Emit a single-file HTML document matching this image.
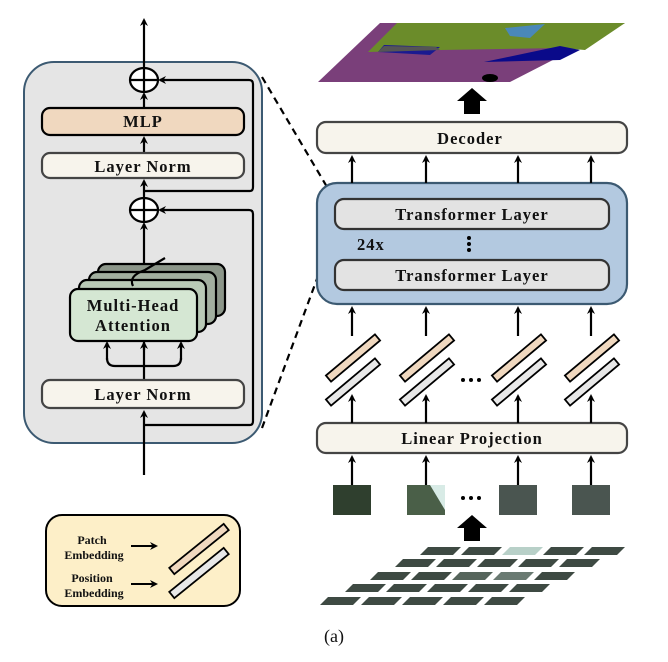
<!DOCTYPE html>
<html><head><meta charset="utf-8"><style>
html,body{margin:0;padding:0;background:#fff}
svg{display:block}
text{font-family:"Liberation Serif",serif;font-weight:bold;fill:#111}
.b{font-size:16.5px;letter-spacing:1px}
</style></head><body>
<svg width="668" height="662" viewBox="0 0 668 662" xmlns="http://www.w3.org/2000/svg">
<defs>
<marker id="a" markerWidth="8" markerHeight="8" refX="6" refY="4" orient="auto" markerUnits="userSpaceOnUse"><path d="M0,0 L8,4 L0,8 L2.5,4 Z" fill="#000"/></marker>
<polygon id="t" points="8,0 41,0 33,8 0,8"/>
<g id="pk"><g transform="translate(0,-12) rotate(-40)"><rect x="-32" y="-4" width="64" height="8" fill="#f0d8bf"/></g><g transform="translate(0,12) rotate(-40)"><rect x="-32" y="-4" width="64" height="8" fill="#e8e8e8"/></g></g>
</defs>
<g stroke="#000" stroke-width="2.2" fill="none">
<rect x="24" y="62" width="238" height="381" rx="30" fill="#e5e5e5" stroke="#3c5a72" stroke-width="2"/>
<line x1="144" y1="475" x2="144" y2="412" marker-end="url(#a)"/>
<line x1="144" y1="380" x2="144" y2="342"/>
<path d="M144,366 H115 Q107,366 107,358"/><line x1="107" y1="360" x2="107" y2="343" marker-end="url(#a)"/>
<path d="M144,366 H173 Q181,366 181,358"/><line x1="181" y1="360" x2="181" y2="343" marker-end="url(#a)"/>
<line x1="144" y1="350" x2="144" y2="343" marker-end="url(#a)"/>
<line x1="144" y1="266" x2="144" y2="224" marker-end="url(#a)"/>
<line x1="144" y1="197" x2="144" y2="181" marker-end="url(#a)"/>
<line x1="144" y1="153" x2="144" y2="138" marker-end="url(#a)"/>
<line x1="144" y1="108" x2="144" y2="94" marker-end="url(#a)"/>
<line x1="144" y1="67" x2="144" y2="20" marker-end="url(#a)"/>
<path d="M144,425 H250 Q253,425 253,421 V214 Q253,210 249,210 H160" marker-end="url(#a)"/>
<path d="M144,191 H250 Q253,191 253,187 V84 Q253,80 249,80 H160" marker-end="url(#a)"/>
<ellipse cx="144" cy="80" rx="14" ry="12" fill="#fff"/><line x1="130" y1="80" x2="158" y2="80"/><line x1="144" y1="68" x2="144" y2="92"/>
<ellipse cx="144" cy="210" rx="14" ry="12" fill="#fff"/><line x1="130" y1="210" x2="158" y2="210"/><line x1="144" y1="198" x2="144" y2="222"/>
<rect x="42" y="108" width="202" height="27" rx="8" fill="#f0d8bf"/>
<rect x="42" y="153" width="202" height="25" rx="8" fill="#f7f4ec" stroke="#444"/>
<rect x="42" y="380" width="202" height="28" rx="8" fill="#f7f4ec" stroke="#444"/>
<rect x="98" y="264" width="127" height="52" rx="8" fill="#8c9689"/>
<rect x="89" y="272" width="127" height="52" rx="8" fill="#a2af9f"/>
<rect x="79" y="280" width="127" height="52" rx="8" fill="#b9cab6"/>
<path d="M133,286 Q128,276 145,270 Q155,264 165,258"/>
<rect x="70" y="289" width="127" height="52" rx="8" fill="#d5e7d3"/>
<line x1="262" y1="77" x2="330" y2="192" stroke-dasharray="7,5"/>
<line x1="262" y1="428" x2="335" y2="230" stroke-dasharray="7,5"/>
<rect x="317" y="122" width="310" height="31" rx="9" fill="#f7f4ec" stroke="#444"/>
<rect x="317" y="183" width="310" height="121" rx="20" fill="#b3c9e0" stroke="#3c5a72"/>
<rect x="335" y="199" width="274" height="30" rx="9" fill="#e3e3e3" stroke="#333"/>
<rect x="335" y="260" width="274" height="30" rx="9" fill="#e3e3e3" stroke="#333"/>
<rect x="317" y="423" width="310" height="30" rx="9" fill="#f7f4ec" stroke="#444"/>
<g>
<line x1="352" y1="183" x2="352" y2="157" marker-end="url(#a)"/><line x1="426" y1="183" x2="426" y2="157" marker-end="url(#a)"/><line x1="518" y1="183" x2="518" y2="157" marker-end="url(#a)"/><line x1="591" y1="183" x2="591" y2="157" marker-end="url(#a)"/>
<line x1="352" y1="336" x2="352" y2="308" marker-end="url(#a)"/><line x1="426" y1="336" x2="426" y2="308" marker-end="url(#a)"/><line x1="518" y1="336" x2="518" y2="308" marker-end="url(#a)"/><line x1="591" y1="336" x2="591" y2="308" marker-end="url(#a)"/>
<line x1="352" y1="423" x2="352" y2="396" marker-end="url(#a)"/><line x1="426" y1="423" x2="426" y2="396" marker-end="url(#a)"/><line x1="518" y1="423" x2="518" y2="396" marker-end="url(#a)"/><line x1="591" y1="423" x2="591" y2="396" marker-end="url(#a)"/>
<line x1="352" y1="485" x2="352" y2="457" marker-end="url(#a)"/><line x1="426" y1="485" x2="426" y2="457" marker-end="url(#a)"/><line x1="518" y1="485" x2="518" y2="457" marker-end="url(#a)"/><line x1="591" y1="485" x2="591" y2="457" marker-end="url(#a)"/>
</g>
</g>
<rect x="46" y="515" width="194" height="91" rx="16" fill="#fdefc8" stroke="#000" stroke-width="2"/>
<g stroke="#000" stroke-width="1.8">
<use href="#pk" x="353" y="370"/><use href="#pk" x="427" y="370"/><use href="#pk" x="519" y="370"/><use href="#pk" x="592" y="370"/>
<g transform="translate(199,549) rotate(-39)"><rect x="-35" y="-4" width="70" height="8" fill="#f0d8bf"/></g>
<g transform="translate(199,573) rotate(-39)"><rect x="-35" y="-4" width="70" height="8" fill="#e8e8e8"/></g>
</g>
<g stroke="#000" stroke-width="2" fill="none"><line x1="131" y1="546" x2="156" y2="546" marker-end="url(#a)"/><line x1="131" y1="584" x2="156" y2="584" marker-end="url(#a)"/></g>
<text x="92" y="544" font-size="12" text-anchor="middle">Patch</text>
<text x="94" y="559" font-size="12" text-anchor="middle">Embedding</text>
<text x="92" y="582" font-size="12" text-anchor="middle">Position</text>
<text x="94" y="597" font-size="12" text-anchor="middle">Embedding</text>
<text class="b" x="143" y="127" text-anchor="middle">MLP</text>
<text class="b" x="143" y="172" text-anchor="middle">Layer Norm</text>
<text class="b" x="143" y="400" text-anchor="middle">Layer Norm</text>
<text class="b" x="133" y="311" text-anchor="middle">Multi-Head</text>
<text class="b" x="133" y="331" text-anchor="middle">Attention</text>
<text class="b" x="470" y="144" text-anchor="middle">Decoder</text>
<text class="b" x="472" y="220" text-anchor="middle">Transformer Layer</text>
<text class="b" x="472" y="281" text-anchor="middle">Transformer Layer</text>
<text class="b" x="357" y="250">24x</text>
<text class="b" x="472" y="444" text-anchor="middle">Linear Projection</text>
<text x="334" y="642" font-size="18" text-anchor="middle" style="font-weight:normal">(a)</text>
<g fill="#000"><circle cx="469" cy="238" r="2"/><circle cx="469" cy="244" r="2"/><circle cx="469" cy="250" r="2"/>
<circle cx="463" cy="380" r="2"/><circle cx="471" cy="380" r="2"/><circle cx="479" cy="380" r="2"/>
<circle cx="463" cy="498" r="2"/><circle cx="471" cy="498" r="2"/><circle cx="479" cy="498" r="2"/>
<polygon points="472,88 487,101 480,101 480,114 464,114 464,101 457,101"/>
<polygon points="472,515 487,528 480,528 480,541 464,541 464,528 457,528"/></g>
<polygon points="318,82 380,23 625,23 510,82" fill="#7a3f7a"/>
<polygon points="368,52 397,23 625,23 585,50 560,48 440,50" fill="#6b8c2a"/>
<polygon points="484,62 560,46 580,50 560,60" fill="#0a0a8a"/>
<polygon points="505,28 545,24 530,38 510,36" fill="#4a88b8"/>
<polygon points="384,45 440,47 430,55 378,52" fill="#1a1a90"/>
<polygon points="378,52 440,50 436,47 384,46" fill="#555"/>
<ellipse cx="490" cy="78" rx="8" ry="4" fill="#000"/>
<rect x="333" y="485" width="38" height="30" fill="#2f3f2e"/>
<rect x="407" y="485" width="38" height="30" fill="#4a5f48"/><polygon points="430,485 445,485 445,510" fill="#d8ebe6"/>
<rect x="499" y="485" width="38" height="30" fill="#4a5550"/>
<rect x="572" y="485" width="38" height="30" fill="#4a5550"/>
<g fill="#3e4a43">
<use href="#t" x="420" y="547"/><use href="#t" x="461" y="547"/><use href="#t" x="502" y="547" fill="#b8d0c8"/><use href="#t" x="543" y="547"/><use href="#t" x="584" y="547"/>
<use href="#t" x="395" y="559"/><use href="#t" x="436" y="559"/><use href="#t" x="477" y="559"/><use href="#t" x="518" y="559"/><use href="#t" x="559" y="559"/>
<use href="#t" x="370" y="572"/><use href="#t" x="411" y="572"/><use href="#t" x="452" y="572" fill="#56655c"/><use href="#t" x="493" y="572" fill="#6a7a72"/><use href="#t" x="534" y="572"/>
<use href="#t" x="345" y="584"/><use href="#t" x="386" y="584"/><use href="#t" x="427" y="584"/><use href="#t" x="468" y="584"/><use href="#t" x="509" y="584"/>
<use href="#t" x="320" y="597"/><use href="#t" x="361" y="597"/><use href="#t" x="402" y="597"/><use href="#t" x="443" y="597"/><use href="#t" x="484" y="597"/>
</g>
</svg>
</body></html>
